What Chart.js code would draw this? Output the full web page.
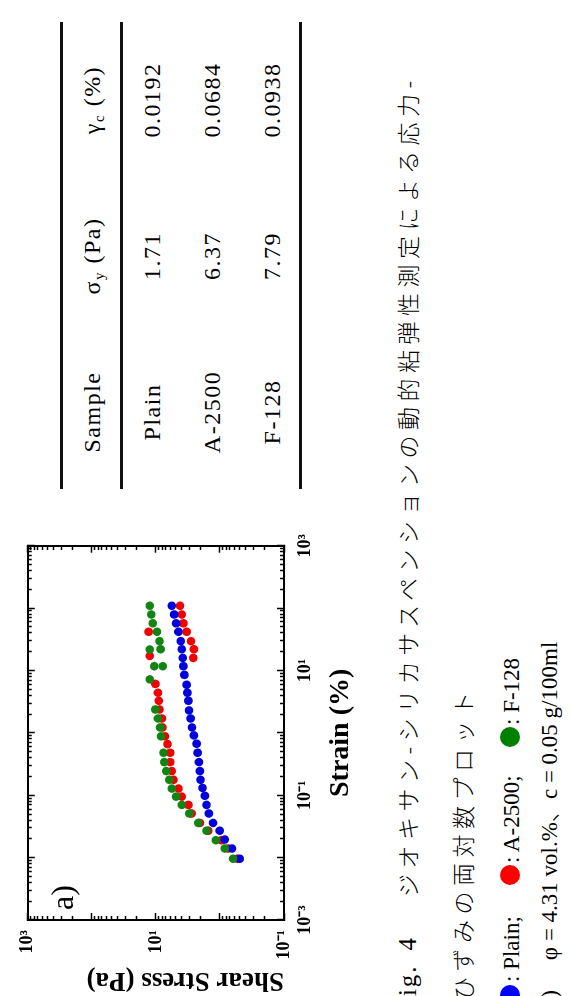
<!DOCTYPE html>
<html>
<head>
<meta charset="utf-8">
<script src="https://cdn.jsdelivr.net/npm/chart.js@4"></script>
<style>
  html, body { margin: 0; padding: 0; background: #fff; }
  body { width: 572px; height: 996px; overflow: hidden; position: relative; }
  #page {
    position: absolute; left: 0; top: 0; width: 996px; height: 572px;
    transform-origin: 0 0; transform: translateY(996px) rotate(-90deg);
    font-family: 'Liberation Serif', 'Times New Roman', serif; color: #000;
  }
  #chartBox { position: absolute; left: 0; top: 0; width: 480px; height: 362px; }
  .abs { position: absolute; white-space: nowrap; line-height: 1; }
  .rule { position: absolute; left: 507px; width: 467px; height: 2.5px; background: #111; }
  .cell { position: absolute; width: 160px; text-align: center; font-size: 24px; letter-spacing: 1.5px; line-height: 1; }
  .jp { font-family: 'Noto Sans CJK JP', sans-serif; font-weight: 300; }
  .cap { font-size: 23px; letter-spacing: 5.5px; }
  .dot { position: absolute; width: 20px; height: 20px; border-radius: 50%; }
  sub { font-size: 15px; vertical-align: -4px; line-height: 0; }
</style>
</head>
<body>
<div id="page">
  <div id="chartBox"><canvas id="myChart" width="480" height="362"></canvas></div>
  <div class="abs" style="left:86px; top:46px; font-size:32px;">a)</div>

  <!-- table -->
  <div class="rule" style="top:60px"></div>
  <div class="rule" style="top:120px"></div>
  <div class="rule" style="top:299px"></div>
  <div class="cell" style="left:504px; top:80px">Sample</div>
  <div class="cell" style="left:660px; top:80px">σ<sub>y</sub> (Pa)</div>
  <div class="cell" style="left:816px; top:80px">γ<sub>c</sub> (%)</div>
  <div class="cell" style="left:504px; top:140px">Plain</div>
  <div class="cell" style="left:660px; top:140px">1.71</div>
  <div class="cell" style="left:816px; top:140px">0.0192</div>
  <div class="cell" style="left:504px; top:200px">A-2500</div>
  <div class="cell" style="left:660px; top:200px">6.37</div>
  <div class="cell" style="left:816px; top:200px">0.0684</div>
  <div class="cell" style="left:504px; top:260px">F-128</div>
  <div class="cell" style="left:660px; top:260px">7.79</div>
  <div class="cell" style="left:816px; top:260px">0.0938</div>

  <!-- caption -->
  <div class="abs" style="left:-16px; top:395px; font-size:25px; letter-spacing:2px;">Fig.<span style="margin-left:14px">4</span></div>
  <div class="abs cap jp" style="left:99px; top:396px;">ジオキサン-シリカサスペンションの動的粘弾性測定による応力-</div>
  <div class="abs cap jp" style="left:-4px; top:451px;">ひずみの両対数プロット</div>
  <div class="dot" style="left:-9px; top:500px; background:#0000ff"></div>
  <div class="abs" style="left:14px; top:500px; font-size:23px;">: Plain;</div>
  <div class="dot" style="left:111px; top:500px; background:#ff0000"></div>
  <div class="abs" style="left:133px; top:500px; font-size:23px;">: A-2500;</div>
  <div class="dot" style="left:249px; top:500px; background:#008000"></div>
  <div class="abs" style="left:271px; top:500px; font-size:23px;">: F-128</div>
  <div class="abs" style="left:-12px; top:536px; font-size:23px;">a)<span style="margin-left:30px">φ = 4.31 vol.%<span class="jp">、</span>c = 0.05 g/100ml</span></div>
</div>

<script>
// strain (%) and shear stress (Pa)
var strainPlain = [0.0096, 0.014, 0.0195, 0.027, 0.036, 0.051, 0.070, 0.098, 0.131, 0.177,
                   0.244, 0.34, 0.48, 0.67, 0.91, 1.22, 1.70, 2.29, 3.27, 4.4,
                   5.9, 8.5, 11.7, 15.9, 21.9, 29.5, 41.7, 57, 79, 109];
var stressPlain = [0.49, 0.65, 0.84, 1.01, 1.28, 1.49, 1.62, 1.72, 1.87, 2.01,
                   2.06, 2.13, 2.23, 2.31, 2.55, 2.73, 2.87, 3.05, 3.11, 3.23,
                   3.31, 3.59, 3.72, 3.81, 3.95, 4.09, 4.45, 4.84, 5.2, 5.65];

var strainA2500 = [0.0096, 0.014, 0.019, 0.027, 0.036, 0.051, 0.070, 0.095, 0.128, 0.177,
                   0.244, 0.34, 0.48, 0.66, 0.88, 1.22, 1.70, 2.37, 3.27, 4.4,
                   6.1, 15.9, 17.1, 21.9, 29.5, 41.7, 41.7, 57, 79, 109];
var stressA2500 = [0.535, 0.75, 0.95, 1.52, 2.06, 2.77, 3.11, 3.95, 4.45, 5.3,
                   5.65, 6.0, 6.0, 6.6, 7.2, 7.9, 8.07, 8.8, 9.0, 9.3,
                   10.2, 2.61, 12.5, 2.55, 2.83, 3.31, 13.0, 3.72, 3.95, 4.2];

var strainF128 = [0.0096, 0.014, 0.019, 0.027, 0.036, 0.051, 0.070, 0.095, 0.128, 0.177,
                  0.244, 0.34, 0.48, 0.88, 1.22, 1.70, 2.37, 7.2, 11.7, 11.7,
                  21.7, 21.9, 29.5, 41.7, 57, 79, 109];
var stressF128 = [0.625, 0.84, 1.16, 1.62, 2.18, 3.0, 3.95, 4.84, 5.65, 6.2,
                  6.9, 7.4, 7.6, 8.3, 8.6, 9.3, 10.2, 12.5, 10.6, 7.8,
                  12.5, 8.45, 8.8, 9.6, 11.2, 11.8, 12.5];

// decades that carry a label
var xLabelExps = [-3, -1, 1, 3];
var yLabelExps = [-1, 1, 3];

var sup = {'-': '⁻', '0': '⁰', '1': '¹', '2': '²', '3': '³'};
function powLabel(e) {
    return '10' + String(e).split('').map(function(c) { return sup[c]; }).join('');
}
function isDecade(v) {
    var l = Math.log10(v);
    return Math.abs(l - Math.round(l)) < 1e-6;
}
function logTicks(e0, e1) {
    var t = [];
    for (var e = e0; e <= e1; e++) {
        for (var m = 1; m <= 9; m++) {
            if (e === e1 && m > 1) break;
            var v = Number((m * Math.pow(10, e)).toPrecision(6));
            t.push({value: v, major: m === 1});
        }
    }
    return t;
}
function points(xs, ys) {
    return xs.map(function(x, i) { return {x: x, y: ys[i]}; });
}

var serif = "'Liberation Serif', 'Times New Roman', serif";
var tickFont = {family: serif, weight: 'bold', size: 18};

// inward ticks: majors full length, minors cut with a dash
function gridOuter(ctx) {   // bottom / right: line starts at the border
    return (ctx.tick && !isDecade(ctx.tick.value)) ? [5, 30] : [];
}
function gridInner(ctx) {   // top / left: line starts inside the plot
    return (ctx.tick && !isDecade(ctx.tick.value)) ? [0, 3, 30] : [];
}
function gridOpts(dash) {
    return {display: true, drawOnChartArea: false, drawTicks: true, tickLength: -7,
            tickWidth: 1.5, tickColor: '#000', tickBorderDash: dash};
}
var border = {display: true, color: '#000', width: 2};

const ctx = document.getElementById('myChart').getContext('2d');
const myChart = new Chart(ctx, {
    type: 'scatter',
    data: {
        datasets: [
            {
                label: 'Plain',
                data: points(strainPlain, stressPlain),
                backgroundColor: '#0000dd',
                borderWidth: 0,
                pointRadius: 4.3,
                order: 2
            },
            {
                label: 'A-2500',
                data: points(strainA2500, stressA2500),
                backgroundColor: '#f00000',
                borderWidth: 0,
                pointRadius: 4.3,
                order: 3
            },
            {
                label: 'F-128',
                data: points(strainF128, stressF128),
                backgroundColor: '#128412',
                borderWidth: 0,
                pointRadius: 4.3,
                order: 1
            }
        ]
    },
    options: {
        responsive: false,
        animation: false,
        layout: {padding: {top: 25, right: 17, left: 0, bottom: 0}},
        plugins: {
            legend: {display: false},
            tooltip: {enabled: false}
        },
        scales: {
            x: {
                type: 'logarithmic',
                position: 'bottom',
                min: 1e-3, max: 1e3,
                afterBuildTicks: function(s) { s.ticks = logTicks(-3, 3); },
                afterFit: function(s) { s.height = 78; },
                grid: gridOpts(gridOuter),
                border: border,
                ticks: {
                    autoSkip: false, maxRotation: 0, padding: 18, color: '#000', font: tickFont,
                    callback: function(v) {
                        return (isDecade(v) && xLabelExps.indexOf(Math.round(Math.log10(v))) >= 0) ? powLabel(Math.round(Math.log10(v))) : '';
                    }
                },
                title: {display: true, text: 'Strain (%)', color: '#000',
                        font: {family: serif, weight: 'bold', size: 28}, padding: {top: 0, bottom: 4}}
            },
            x2: {
                type: 'logarithmic',
                position: 'top',
                min: 1e-3, max: 1e3,
                afterBuildTicks: function(s) { s.ticks = logTicks(-3, 3); },
                afterFit: function(s) { s.height = 0; },
                grid: gridOpts(gridInner),
                border: border,
                ticks: {display: false, autoSkip: false}
            },
            y: {
                type: 'logarithmic',
                position: 'left',
                min: 0.1, max: 1000,
                afterBuildTicks: function(s) { s.ticks = logTicks(-1, 3); },
                afterFit: function(s) { s.width = 76; },
                grid: gridOpts(gridInner),
                border: border,
                ticks: {
                    autoSkip: false, padding: 17, color: '#000', font: tickFont,
                    callback: function(v) {
                        return (isDecade(v) && yLabelExps.indexOf(Math.round(Math.log10(v))) >= 0) ? powLabel(Math.round(Math.log10(v))) : '';
                    }
                },
                title: {display: true, text: 'Shear Stress (Pa)', align: 'start', color: '#000',
                        font: {family: serif, weight: 'bold', size: 27}, padding: {top: 0, bottom: 0}}
            },
            y2: {
                type: 'logarithmic',
                position: 'right',
                min: 0.1, max: 1000,
                afterBuildTicks: function(s) { s.ticks = logTicks(-1, 3); },
                afterFit: function(s) { s.width = 0; },
                grid: gridOpts(gridOuter),
                border: border,
                ticks: {display: false, autoSkip: false}
            }
        }
    }
});
</script>
</body>
</html>
